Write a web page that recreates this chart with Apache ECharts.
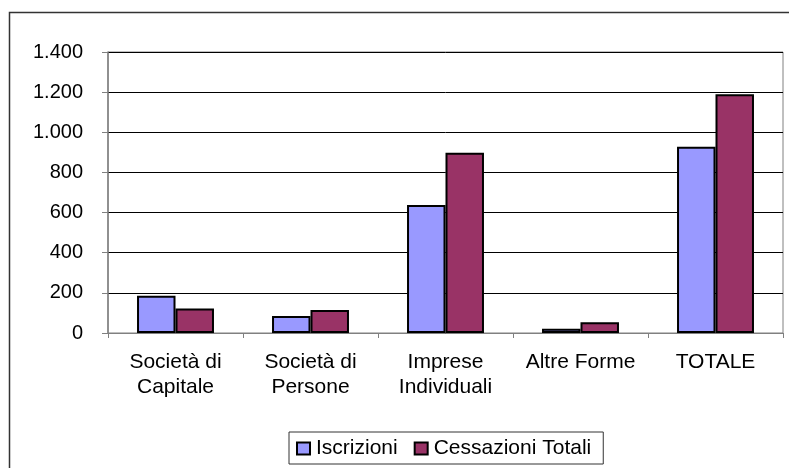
<!DOCTYPE html>
<html>
<head>
<meta charset="utf-8">
<script src="https://cdn.jsdelivr.net/npm/echarts@6/dist/echarts.min.js"></script>
<style>
  html, body { margin: 0; padding: 0; background: #fff; }
  #chart { width: 789px; height: 468px; }
</style>
</head>
<body>
<div id="chart"></div>
<script>
// Categories of business legal form (wrapped onto two lines where needed)
const categories = ['Società di\nCapitale', 'Società di\nPersone', 'Imprese\nIndividuali', 'Altre Forme', 'TOTALE'];
const seriesNames = ['Iscrizioni', 'Cessazioni Totali'];
const iscrizioni = [185, 85, 638, 21, 928];
const cessazioni = [122, 115, 898, 54, 1189];
const yTicks = [0, 200, 400, 600, 800, 1000, 1200, 1400];

// Italian thousands separator: 1400 -> "1.400"
function fmt(v) {
  return String(v).replace(/\B(?=(\d{3})+(?!\d))/g, '.');
}

const FONT = '"Liberation Sans", Arial, sans-serif';
const chart = echarts.init(document.getElementById('chart'), null, { renderer: 'canvas' });

chart.setOption({
  backgroundColor: '#ffffff',
  animation: false,
  textStyle: { fontFamily: FONT, color: '#000' },
  graphic: [{
    type: 'rect',
    shape: { x: 9.5, y: 12.5, width: 800, height: 500 },
    style: { fill: 'none', stroke: '#333', lineWidth: 1.5 },
    silent: true
  }],
  grid: {
    left: 108, right: 6, top: 52, bottom: 135,
    show: true, borderColor: '#808080', borderWidth: 1, backgroundColor: 'transparent'
  },
  legend: {
    data: seriesNames,
    left: 289, top: 432,
    padding: [6, 12, 5, 7],
    itemGap: 16,
    itemWidth: 13, itemHeight: 12,
    icon: 'rect',
    borderColor: '#333', borderWidth: 1,
    textStyle: { fontFamily: FONT, fontSize: 21, color: '#000', padding: [0, 0, 0, 1] },
    itemStyle: { borderColor: '#000', borderWidth: 2 }
  },
  xAxis: {
    type: 'category',
    data: categories,
    axisLine: { lineStyle: { color: '#808080', width: 1 } },
    axisTick: { show: true, length: 5, lineStyle: { color: '#808080' } },
    axisLabel: {
      fontFamily: FONT, fontSize: 21, color: '#000', lineHeight: 25, margin: 17,
      interval: 0
    },
    splitLine: { show: false }
  },
  yAxis: {
    type: 'value',
    min: yTicks[0], max: yTicks[yTicks.length - 1], interval: 200,
    axisLine: { show: true, lineStyle: { color: '#808080', width: 1.5 } },
    axisTick: { show: true, inside: false, length: 6, lineStyle: { color: '#808080' } },
    axisLabel: {
      fontFamily: FONT, fontSize: 20, color: '#000', margin: 25,
      formatter: v => fmt(v)
    },
    splitLine: { show: true, lineStyle: { color: '#000', width: 1 } }
  },
  series: [
    {
      name: seriesNames[0], type: 'bar', data: iscrizioni,
      barGap: '0%', barCategoryGap: '43%',
      itemStyle: { color: '#9999FF', borderColor: '#000', borderWidth: 2 }
    },
    {
      name: seriesNames[1], type: 'bar', data: cessazioni,
      barGap: '0%', barCategoryGap: '43%',
      itemStyle: { color: '#993366', borderColor: '#000', borderWidth: 2 }
    }
  ]
});
</script>
</body>
</html>
